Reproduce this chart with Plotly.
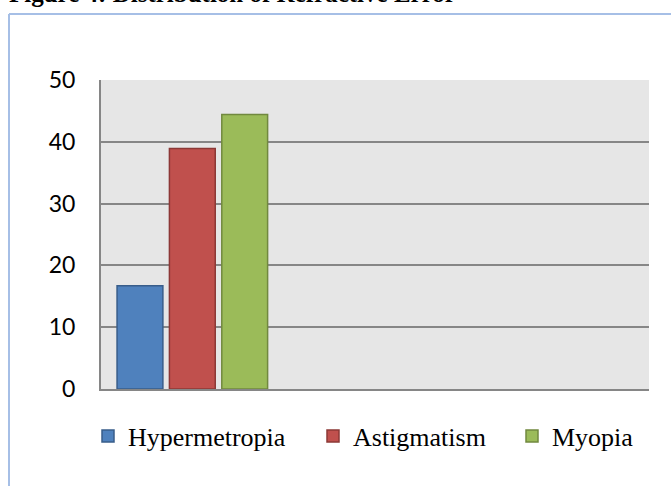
import plotly.graph_objects as go

categories = ["Hypermetropia", "Astigmatism", "Myopia"]
values = [16.7, 38.9, 44.4]
fill_colors = ["#4F81BD", "#C0504D", "#9BBB59"]
edge_colors = ["#385D8A", "#8C3836", "#71893F"]
y_ticks = [0, 10, 20, 30, 40, 50]

W, H = 671, 486
ML, MR, MT, MB = 101, 22, 80, 97
PW, PH = W - ML - MR, H - MT - MB

def px_x(p):
    return (p - ML) / PW

def px_y(p):
    return (H - MB - p) / PH

fig = go.Figure()
legend_x = [88, 313, 512]
for i, (name, v) in enumerate(zip(categories, values)):
    lg = "legend" if i == 0 else f"legend{i+1}"
    fig.add_trace(go.Bar(
        x=[0], y=[v], name=name,
        marker=dict(color=fill_colors[i], line=dict(color=edge_colors[i], width=1.5)),
        legend=lg, hoverinfo="name+y",
    ))

legend_common = dict(
    orientation="h", bgcolor="rgba(0,0,0,0)",
    font=dict(family="Liberation Serif, Times New Roman, serif", size=26, color="#000000"),
    xanchor="left", yanchor="middle", itemwidth=30, tracegroupgap=0,
)
layout_legends = {}
for i, lx in enumerate(legend_x):
    key = "legend" if i == 0 else f"legend{i+1}"
    layout_legends[key] = dict(legend_common, x=px_x(lx), y=px_y(436))

fig.update_layout(
    width=W, height=H,
    margin=dict(l=ML, r=MR, t=MT, b=MB),
    paper_bgcolor="#FFFFFF",
    plot_bgcolor="#E6E6E6",
    barmode="group",
    bargap=0.14,
    bargroupgap=0.125,
    showlegend=True,
    **layout_legends,
    xaxis=dict(
        range=[-0.5, 2.5], showticklabels=False, ticks="", showgrid=False,
        zeroline=False, showline=True, linecolor="#868686", linewidth=2,
        mirror=False,
    ),
    yaxis=dict(
        range=[0, 50], tickvals=y_ticks, showgrid=True, gridcolor="#868686",
        gridwidth=2, zeroline=False, showline=True, linecolor="#868686",
        linewidth=2, ticks="", ticklabelstandoff=19,
        tickfont=dict(family="Lato, Carlito, Calibri, sans-serif", size=23, color="#000000"),
    ),
    shapes=[
        dict(type="line", xref="paper", yref="paper",
             x0=px_x(9), x1=px_x(9), y0=px_y(14), y1=px_y(500),
             line=dict(color="#A6BFE6", width=2)),
        dict(type="line", xref="paper", yref="paper",
             x0=px_x(9), x1=px_x(700), y0=px_y(14), y1=px_y(14),
             line=dict(color="#A6BFE6", width=2)),
    ],
    annotations=[
        dict(text="<b>Figure 4: Distribution of Refractive Error</b>",
             xref="paper", yref="paper", x=px_x(7), y=px_y(-6),
             xanchor="left", yanchor="middle", showarrow=False,
             font=dict(family="Liberation Serif, Times New Roman, serif", size=25, color="#000000")),
    ],
)

fig.write_html("out.html", config={"displayModeBar": False},
               post_script="document.body.style.margin='0';document.body.style.padding='0';")
